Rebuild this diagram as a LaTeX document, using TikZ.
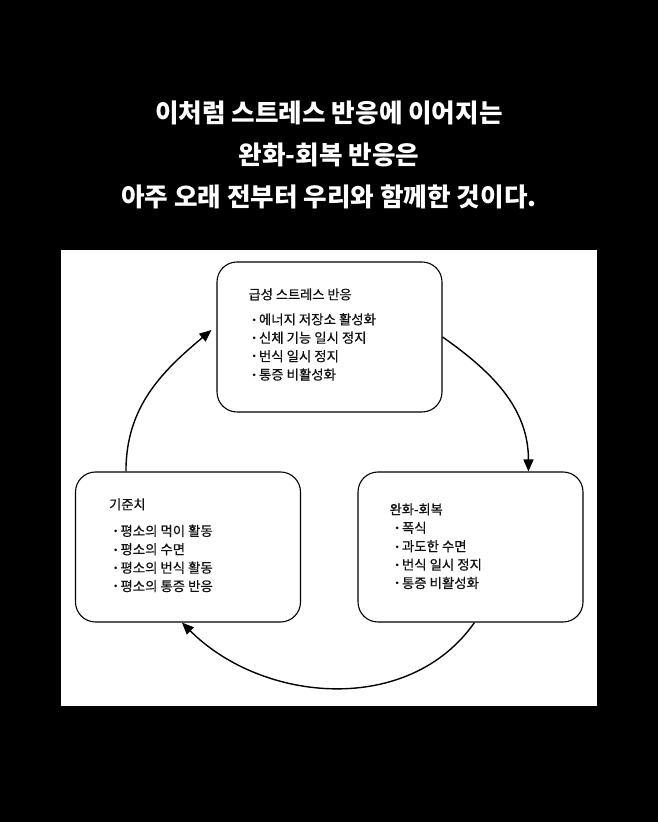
\documentclass[tikz,border=0pt]{standalone}
\usepackage{fontspec}
\setmainfont{Noto Sans CJK KR}
\newfontfamily\boxfont[FakeBold=0.6]{Noto Sans CJK KR}
\newfontfamily\bulfont{Liberation Sans}
\usetikzlibrary{arrows.meta,calc}
\definecolor{textc}{HTML}{111111}
\newcommand{\mybul}{{\bulfont\fontsize{9.5}{9.5}\selectfont\raisebox{0.25ex}{•}}\hspace{3pt}}
\tikzset{
  box/.style={draw=black, line width=1.1pt, rounded corners=20pt, minimum width=225pt, minimum height=150pt, inner sep=0pt, fill=white},
  ttl/.style={anchor=west, inner sep=0pt, text=textc, font=\boxfont\fontsize{13.2}{15}\selectfont},
  lst/.style={anchor=west, inner sep=0pt, text=textc, align=left, font=\boxfont\fontsize{13.4}{18.4}\selectfont},
  conn/.style={line width=1.4pt, -{Triangle[length=12pt,width=10pt]}},
  headline/.style={text=white, align=center, inner sep=0pt, font=\fontsize{25.6}{42}\selectfont\bfseries}
}
\begin{document}
\begin{tikzpicture}[x=1pt,y=1pt]
\fill[black] (0,0) rectangle (658,822);
\useasboundingbox (0,0) rectangle (658,822);
\fill[white] (61,116) rectangle (597,572);

\node[headline] (head) at (329,667) {이처럼 스트레스 반응에 이어지는\\완화-회복 반응은\\아주 오래 전부터 우리와 함께한 것이다.};

\node[box] (acute) at (329.5,485) {};
\node[box] (base) at (188,275) {};
\node[box] (rec) at (470.5,275) {};

\node[ttl] (acuteT) at ($(acute.north west)+(32,-33)$) {급성 스트레스 반응};
\node[lst] (acuteL) at ($(acute.north west)+(36,-85.5)$) {\mybul 에너지 저장소 활성화\\\mybul 신체 기능 일시 정지\\\mybul 번식 일시 정지\\\mybul 통증 비활성화};

\node[ttl] (baseT) at ($(base.north west)+(34,-33)$) {기준치};
\node[lst] (baseL) at ($(base.north west)+(39,-87)$) {\mybul 평소의 먹이 활동\\\mybul 평소의 수면\\\mybul 평소의 번식 활동\\\mybul 평소의 통증 반응};

\node[ttl] (recT) at ($(rec.north west)+(32,-38)$) {완화-회복};
\node[lst] (recL) at ($(rec.north west)+(38,-84)$) {\mybul 폭식\\\mybul 과도한 수면\\\mybul 번식 일시 정지\\\mybul 통증 비활성화};

\draw[conn] ($(base.north west)+(51,0)$) to[out=90,in=220] ($(acute.west)+(-5,7)$);
\draw[conn] (acute.east) to[out=-35,in=90] ($(rec.north west)+(171,0)$);
\draw[conn] ($(rec.south west)+(117,0)$) to[out=-125,in=-45] ($(base.south west)+(107,0)$);
\end{tikzpicture}
\end{document}
